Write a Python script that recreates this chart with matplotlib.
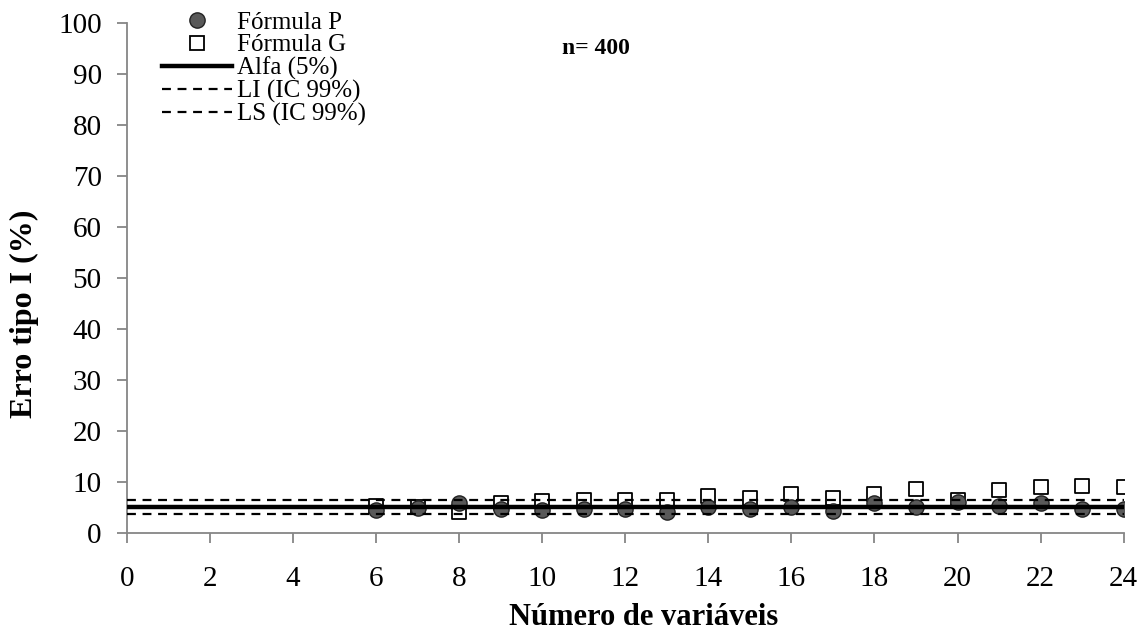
import matplotlib
matplotlib.use("Agg")
import matplotlib.pyplot as plt
from matplotlib.lines import Line2D

plt.rcParams['font.family'] = ['Liberation Serif', 'DejaVu Serif']

# Data
n_vars = [6, 7, 8, 9, 10, 11, 12, 13, 14, 15, 16, 17, 18, 19, 20, 21, 22, 23, 24]
formula_p = [4.5, 4.8, 5.9, 4.6, 4.5, 4.6, 4.7, 4.0, 5.0, 4.7, 5.0, 4.3, 5.8, 5.0, 6.0, 5.2, 5.8, 4.6, 4.7]
formula_g = [5.3, 5.0, 4.1, 5.9, 6.2, 6.4, 6.5, 6.4, 7.2, 6.9, 7.7, 6.8, 7.7, 8.6, 6.4, 8.3, 8.9, 9.2, 9.0]
line_x = list(range(0, 25))
alfa = [5.0] * len(line_x)
li = [3.6] * len(line_x)
ls = [6.4] * len(line_x)
xticks = list(range(0, 25, 2))
yticks = list(range(0, 101, 10))

fig = plt.figure(figsize=(11.42, 6.35), dpi=100)
ax = fig.add_axes([0.111, 0.161, 0.873, 0.803])

ax.scatter(n_vars, formula_g, marker='s', s=100, facecolor='white', edgecolor='black', linewidth=1.3, zorder=3)
ax.scatter(n_vars, formula_p, marker='o', s=120, facecolor='#595959', edgecolor='#222222', linewidth=1.0, zorder=3)
ax.plot(line_x, alfa, color='black', linewidth=3.2, zorder=4)
ax.plot(line_x, li, color='black', linewidth=1.6, dashes=(4, 3), zorder=4)
ax.plot(line_x, ls, color='black', linewidth=1.6, dashes=(4, 3), zorder=4)

ax.set_xlim(0, 24)
ax.set_ylim(0, 100)
ax.set_xticks(xticks)
ax.set_yticks(yticks)
for s in ['top', 'right']:
    ax.spines[s].set_visible(False)
for s in ['left', 'bottom']:
    ax.spines[s].set_color('#868686')
    ax.spines[s].set_linewidth(1.3)
ax.tick_params(axis='both', which='major', direction='out', length=7, width=1.3, color='#868686', labelsize=21)
ax.tick_params(axis='x', pad=17)
ax.tick_params(axis='y', pad=11)
ax.set_xlabel('Número de variáveis', fontsize=22, fontweight='bold')
ax.set_ylabel('Erro tipo I (%)', fontsize=23, fontweight='bold')
ax.xaxis.set_label_coords(0.518, -0.138)
ax.yaxis.set_label_coords(-0.088, 0.43)

ax.text(11.3, 95, 'n= 400', fontsize=17, fontweight='bold', ha='center', va='center')

handles = [
    Line2D([], [], marker='o', linestyle='none', markersize=11, markerfacecolor='#595959', markeredgecolor='#222222'),
    Line2D([], [], marker='s', linestyle='none', markersize=10, markerfacecolor='white', markeredgecolor='black', markeredgewidth=1.3),
    Line2D([], [], color='black', linewidth=3.2),
    Line2D([], [], color='black', linewidth=1.6, dashes=(4, 3)),
    Line2D([], [], color='black', linewidth=1.6, dashes=(4, 3)),
]
labels = ['Fórmula P', 'Fórmula G', 'Alfa (5%)', 'LI (IC 99%)', 'LS (IC 99%)']
fig.legend(handles, labels, loc='upper left', bbox_to_anchor=(0.142, 0.982), frameon=False,
           fontsize=18, handlelength=2.8, handletextpad=0.2, labelspacing=0.0, borderpad=0, borderaxespad=0)

fig.savefig('out.png', dpi=100)
